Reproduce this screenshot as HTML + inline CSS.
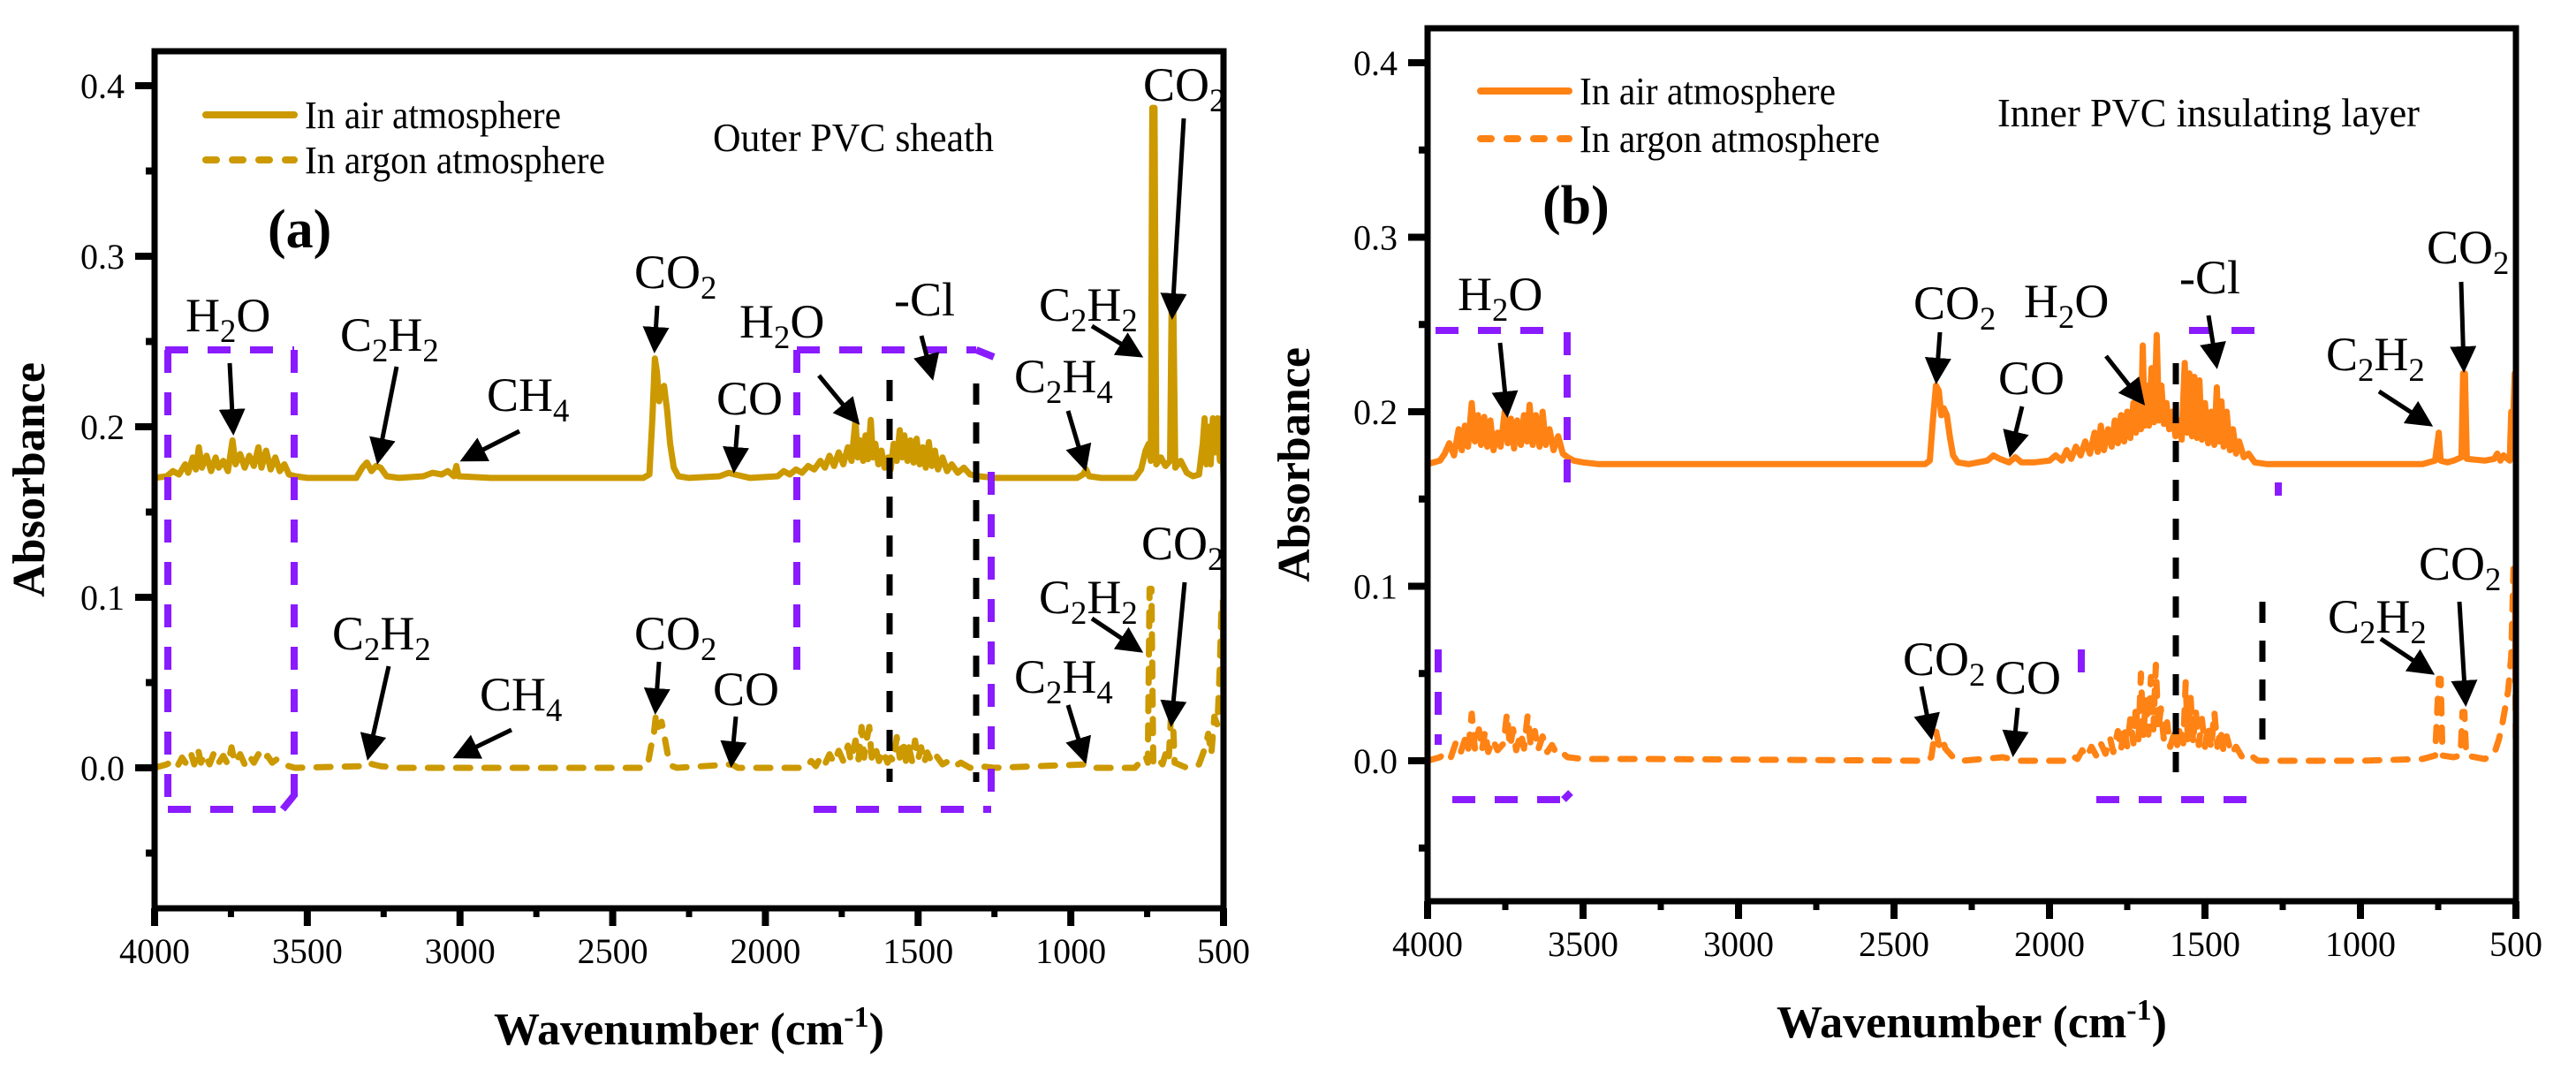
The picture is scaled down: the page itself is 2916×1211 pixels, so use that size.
<!DOCTYPE html>
<html><head><meta charset="utf-8"><title>FTIR spectra</title>
<style>
html,body{margin:0;padding:0;background:#fff;}
svg{display:block;font-family:"Liberation Serif",serif;}
svg text, svg tspan{font-family:"Liberation Serif",serif;}
</style></head>
<body>
<svg id="chart" width="2916" height="1211" viewBox="0 0 2916 1211" xmlns="http://www.w3.org/2000/svg"></svg>
<script>
// ---------- data ----------
const xTicks = [4000, 3500, 3000, 2500, 2000, 1500, 1000, 500];
const yTicks = [0.0, 0.1, 0.2, 0.3, 0.4];
const yTickLabels = ["0.0", "0.1", "0.2", "0.3", "0.4"];

const aAir = [[4000,.170],[3960,.171],[3940,.174],[3920,.172],[3900,.178],[3890,.173],[3875,.182],[3865,.175],[3855,.188],[3845,.176],[3830,.183],[3815,.174],[3800,.182],[3790,.176],[3775,.180],[3760,.174],[3745,.192],[3735,.178],[3720,.184],[3705,.176],[3690,.183],[3675,.177],[3660,.188],[3650,.176],[3635,.186],[3620,.175],[3605,.182],[3590,.174],[3575,.178],[3560,.172],[3540,.171],[3500,.170],[3340,.170],[3320,.176],[3305,.179],[3290,.174],[3275,.177],[3260,.176],[3240,.171],[3200,.170],[3120,.171],[3090,.173],[3060,.172],[3040,.174],[3020,.171],[3012,.177],[3005,.171],[2900,.170],[2400,.170],[2380,.172],[2370,.205],[2362,.240],[2355,.232],[2348,.215],[2340,.222],[2332,.224],[2322,.210],[2312,.190],[2300,.176],[2285,.171],[2250,.170],[2150,.171],[2120,.173],[2100,.172],[2050,.170],[1960,.171],[1940,.174],[1920,.172],[1900,.175],[1880,.173],[1860,.177],[1840,.175],[1820,.180],[1805,.176],[1790,.183],[1775,.177],[1760,.185],[1745,.178],[1730,.188],[1718,.180],[1705,.204],[1698,.182],[1690,.192],[1680,.180],[1672,.195],[1664,.181],[1655,.204],[1648,.182],[1640,.190],[1630,.178],[1620,.186],[1610,.176],[1598,.182],[1590,.175],[1580,.190],[1570,.180],[1560,.198],[1552,.182],[1545,.195],[1535,.180],[1525,.192],[1515,.179],[1505,.193],[1495,.178],[1485,.188],[1475,.176],[1465,.191],[1455,.177],[1445,.186],[1435,.175],[1420,.182],[1405,.174],[1390,.178],[1370,.173],[1350,.176],[1330,.172],[1300,.171],[1250,.170],[980,.170],[960,.172],[950,.175],[940,.171],[900,.170],[790,.170],[770,.175],[755,.186],[745,.190],[738,.180],[733,.387],[726,.387],[720,.178],[705,.182],[690,.177],[675,.180],[670,.267],[664,.267],[658,.176],[640,.180],[620,.173],[600,.171],[580,.172],[568,.190],[562,.205],[556,.178],[548,.200],[542,.178],[535,.205],[528,.185],[520,.205],[512,.180],[506,.205],[500,.170]];

const aArgon = [[4000,0],[3960,.002],[3940,.004],[3925,.001],[3910,.006],[3895,.002],[3880,.008],[3870,.002],[3858,.011],[3848,.003],[3835,.008],[3820,.002],[3805,.009],[3790,.003],[3775,.007],[3760,.002],[3748,.012],[3738,.003],[3720,.008],[3705,.002],[3690,.007],[3675,.003],[3660,.008],[3645,.004],[3630,.007],[3615,.003],[3600,.005],[3580,.002],[3560,.001],[3540,0],[3320,.001],[3305,.003],[3285,.002],[3260,.001],[3200,0],[2400,0],[2385,.002],[2375,.012],[2365,.020],[2358,.032],[2350,.024],[2340,.027],[2330,.018],[2318,.006],[2305,.001],[2290,0],[2110,.002],[2090,0],[1870,0],[1850,.004],[1835,.001],[1820,.006],[1805,.002],[1790,.008],[1775,.003],[1760,.010],[1745,.004],[1730,.013],[1720,.004],[1705,.016],[1695,.005],[1685,.024],[1677,.006],[1668,.017],[1660,.024],[1652,.006],[1640,.012],[1628,.004],[1615,.010],[1600,.003],[1590,.006],[1580,.004],[1570,.018],[1560,.006],[1550,.016],[1540,.004],[1530,.012],[1520,.004],[1510,.016],[1500,.005],[1490,.012],[1480,.003],[1470,.009],[1455,.003],[1440,.007],[1420,.002],[1400,.004],[1380,.001],[1360,.003],[1330,0],[1300,.001],[1250,0],[950,.002],[930,0],[790,0],[770,.004],[755,.007],[748,.003],[742,.105],[736,.105],[730,.003],[715,.006],[700,.002],[690,.008],[680,.003],[672,.030],[666,.030],[660,.003],[620,0],[580,.002],[560,.012],[550,.020],[540,.008],[530,.030],[520,.025],[512,.060],[506,.098],[502,.098],[500,.020]];

const bAir = [[4000,.170],[3960,.172],[3945,.176],[3930,.182],[3915,.175],[3900,.190],[3890,.178],[3880,.192],[3870,.180],[3858,.205],[3848,.183],[3838,.198],[3828,.181],[3818,.197],[3808,.180],[3798,.195],[3788,.178],[3775,.188],[3765,.180],[3752,.200],[3742,.182],[3732,.196],[3722,.179],[3712,.195],[3700,.181],[3690,.198],[3680,.183],[3672,.204],[3662,.181],[3652,.198],[3640,.180],[3630,.200],[3620,.181],[3608,.190],[3595,.178],[3580,.186],[3565,.176],[3550,.174],[3530,.172],[3500,.171],[3450,.170],[2400,.170],[2385,.172],[2375,.195],[2365,.215],[2356,.212],[2348,.198],[2340,.202],[2330,.198],[2320,.185],[2310,.175],[2295,.171],[2260,.170],[2200,.172],[2180,.175],[2160,.173],[2130,.171],[2110,.174],[2090,.171],[2050,.171],[2000,.172],[1980,.175],[1960,.172],[1945,.178],[1930,.173],[1915,.180],[1900,.175],[1885,.183],[1870,.176],[1855,.188],[1845,.177],[1835,.192],[1825,.178],[1812,.190],[1800,.180],[1790,.195],[1780,.182],[1770,.198],[1760,.183],[1750,.200],[1740,.185],[1730,.205],[1722,.188],[1715,.207],[1706,.190],[1700,.238],[1694,.192],[1688,.215],[1680,.192],[1672,.225],[1664,.194],[1655,.244],[1648,.195],[1640,.215],[1632,.193],[1624,.205],[1615,.190],[1605,.200],[1595,.186],[1585,.195],[1575,.184],[1565,.228],[1558,.188],[1550,.222],[1542,.186],[1534,.220],[1526,.185],[1518,.218],[1510,.184],[1500,.205],[1490,.182],[1480,.200],[1470,.181],[1462,.214],[1455,.183],[1447,.206],[1440,.180],[1430,.200],[1420,.178],[1410,.190],[1400,.176],[1390,.183],[1375,.174],[1360,.176],[1340,.171],[1300,.170],[800,.170],[760,.172],[748,.188],[742,.172],[720,.171],[700,.172],[675,.174],[670,.222],[664,.222],[658,.173],[600,.172],[570,.173],[560,.176],[550,.172],[540,.175],[520,.172],[515,.200],[508,.200],[504,.222],[500,.175]];

const bArgon = [[4000,0],[3960,.002],[3940,.005],[3925,.002],[3910,.010],[3895,.004],[3880,.012],[3870,.005],[3858,.027],[3848,.007],[3835,.018],[3825,.006],[3815,.017],[3805,.005],[3790,.012],[3775,.006],[3755,.010],[3745,.027],[3735,.008],[3725,.018],[3715,.006],[3700,.016],[3690,.007],[3678,.026],[3668,.008],[3655,.017],[3645,.006],[3630,.014],[3615,.005],[3600,.009],[3585,.004],[3570,.005],[3550,.002],[3500,.001],[3300,.001],[2400,0],[2380,.002],[2372,.012],[2365,.017],[2355,.009],[2345,.013],[2335,.007],[2320,.004],[2305,.001],[2280,0],[2150,.002],[2100,0],[1950,0],[1930,.003],[1910,.001],[1895,.006],[1880,.002],[1865,.008],[1850,.003],[1835,.010],[1820,.004],[1805,.013],[1795,.005],[1780,.017],[1770,.006],[1760,.020],[1750,.008],[1740,.024],[1730,.010],[1722,.032],[1714,.012],[1706,.050],[1698,.014],[1690,.036],[1682,.015],[1674,.048],[1666,.018],[1658,.055],[1650,.018],[1642,.030],[1632,.012],[1622,.022],[1612,.008],[1600,.015],[1590,.008],[1580,.020],[1570,.010],[1562,.045],[1555,.012],[1546,.036],[1538,.010],[1530,.030],[1520,.009],[1510,.024],[1500,.008],[1490,.020],[1480,.007],[1470,.028],[1460,.008],[1450,.018],[1440,.005],[1430,.014],[1415,.004],[1400,.008],[1380,.002],[1360,.004],[1330,0],[1000,0],[800,.001],[760,.003],[748,.047],[742,.047],[736,.003],[700,.002],[678,.003],[672,.028],[666,.028],[660,.003],[600,.001],[570,.004],[555,.012],[545,.020],[535,.030],[525,.040],[515,.060],[508,.110],[503,.110],[500,-0.005]];

// ---------- drawing ----------
const NS = "http://www.w3.org/2000/svg";
const svg = document.getElementById("chart");
function mk(tag, attrs, parent) {
  const e = document.createElementNS(NS, tag);
  for (const k in attrs) e.setAttribute(k, attrs[k]);
  if (tag === "text") e.setAttribute("font-family", "Liberation Serif, serif");
  (parent || svg).appendChild(e);
  return e;
}
function label(parent, x, y, parts, size) {
  const t = mk("text", {x: x, y: y, "font-size": size, fill: "#000"}, parent);
  let sub = false;
  parts.forEach(p => {
    const ts = mk("tspan", {}, t);
    if (p[1] && !sub) { ts.setAttribute("dy", 12); ts.setAttribute("font-size", size * 0.68); sub = true; }
    else if (!p[1] && sub) { ts.setAttribute("dy", -12); sub = false; }
    ts.textContent = p[0];
  });
  return t;
}

function panel(cfg) {
  const g = mk("g", {});
  
  
  const xs = v => cfg.L + (cfg.xMax - v) / (cfg.xMax - cfg.xMin) * (cfg.R - cfg.L);
  const ys = v => cfg.y0 - v / 0.1 * cfg.per01;

  const series = [[cfg.air, null, "air-spectrum"], [cfg.argon, "16,16", "argon-spectrum"]];
  series.forEach(s => {
    const d = s[0].map((p, i) => (i ? "L" : "M") + xs(p[0]).toFixed(1) + "," + ys(p[1]).toFixed(1)).join("");
    const path = mk("path", {d: d, fill: "none", stroke: cfg.color, "stroke-width": 7, "stroke-linejoin": "round", "stroke-linecap": "round"}, g);
    if (s[1]) path.setAttribute("stroke-dasharray", s[1]);
    
    
  });

  cfg.purple.forEach(l => {
    const ln = mk("line", {x1: l[0], y1: l[1], x2: l[2], y2: l[3], stroke: "#8A1BFF", "stroke-width": 8, "stroke-dasharray": "26,22"}, g);
    
    
  });
  cfg.black.forEach(l => {
    const ln = mk("line", {x1: l[0], y1: l[1], x2: l[0], y2: l[2], stroke: "#000", "stroke-width": 7, "stroke-dasharray": "24,20"}, g);
    
    
  });

  const fr = mk("rect", {x: cfg.L, y: cfg.T, width: cfg.R - cfg.L, height: cfg.B - cfg.T, fill: "none", stroke: "#000", "stroke-width": 7}, g);
  
  

  for (let v = 4000; v >= 500; v -= 250) {
    const major = v % 500 === 0;
    const tk = mk("line", {x1: xs(v), y1: cfg.B, x2: xs(v), y2: cfg.B + (major ? 20 : 10), stroke: "#000", "stroke-width": major ? 8 : 7}, g);
    
    
  }
  xTicks.forEach(v => {
    const t = mk("text", {x: xs(v), y: cfg.B + 62, "font-size": 40, "text-anchor": "middle"}, g);
    t.textContent = v;
    
    
  });
  for (let k = -1; k <= 8; k++) {
    const v = k * 0.05;
    const y = ys(v);
    if (y < cfg.T + 2 || y > cfg.B - 2) continue;
    const major = k % 2 === 0;
    const tk = mk("line", {x1: cfg.L - (major ? 22 : 10), y1: y, x2: cfg.L, y2: y, stroke: "#000", "stroke-width": 8}, g);
    
    
  }
  yTicks.forEach((v, i) => {
    const t = mk("text", {x: cfg.L - 34, y: ys(v) + 14, "font-size": 40, "text-anchor": "end"}, g);
    t.textContent = yTickLabels[i];
    
    
  });

  const xt = mk("text", {x: (cfg.L + cfg.R) / 2, y: cfg.B + 154, "font-size": 52, "font-weight": "bold", "text-anchor": "middle"}, g);
  
  
  xt.appendChild(document.createTextNode("Wavenumber (cm"));
  const sup = mk("tspan", {dy: -20, "font-size": 34}, xt); sup.textContent = "-1";
  const cl = mk("tspan", {dy: 20}, xt); cl.textContent = ")";
  const yt = mk("text", {x: 0, y: 0, "font-size": 52, "font-weight": "bold", "text-anchor": "middle", transform: "translate(" + cfg.ytX + "," + (cfg.T + cfg.B) / 2 + ") rotate(-90)"}, g);
  yt.textContent = "Absorbance";
  
  

  const lg = mk("g", {}, g);
  
  
  const l1 = mk("line", {x1: cfg.leg[0], y1: cfg.leg[1], x2: cfg.leg[0] + 100, y2: cfg.leg[1], stroke: cfg.color, "stroke-width": 8, "stroke-linecap": "round"}, lg);
  
  
  const l2 = mk("line", {x1: cfg.leg[0], y1: cfg.leg[2], x2: cfg.leg[0] + 100, y2: cfg.leg[2], stroke: cfg.color, "stroke-width": 8, "stroke-linecap": "round", "stroke-dasharray": "12,18"}, lg);
  
  
  const t1 = mk("text", {x: cfg.leg[0] + 112, y: cfg.leg[1] + 15, "font-size": 44, textLength: 290, lengthAdjust: "spacingAndGlyphs"}, lg);
  t1.textContent = "In air atmosphere";
  
  
  const t2 = mk("text", {x: cfg.leg[0] + 112, y: cfg.leg[2] + 15, "font-size": 44, textLength: 340, lengthAdjust: "spacingAndGlyphs"}, lg);
  t2.textContent = "In argon atmosphere";
  
  

  const pt = mk("text", {x: cfg.title[0], y: cfg.title[1], "font-size": 46, textLength: cfg.title[3], lengthAdjust: "spacingAndGlyphs"}, g);
  pt.textContent = cfg.title[2];
  
  
  const pl = mk("text", {x: cfg.letter[0], y: cfg.letter[1], "font-size": 62, "font-weight": "bold"}, g);
  pl.textContent = cfg.letter[2];
  
  

  mk("defs", {}, g).innerHTML = '<marker id="ah' + cfg.id + '" markerWidth="6" markerHeight="6" refX="5" refY="3" orient="auto" markerUnits="strokeWidth"><path d="M0,0 L6,3 L0,6 z" fill="#000"/></marker>';
  cfg.notes.forEach(n => {
    const t = label(g, n[0], n[1], n[2], 54);
    
    
    const a = mk("line", {x1: n[3], y1: n[4], x2: n[5], y2: n[6], stroke: "#000", "stroke-width": 5, "marker-end": "url(#ah" + cfg.id + ")"}, g);
    
    
  });
}

const CO2 = [["CO"], ["2", 1]], C2H2 = [["C"], ["2", 1], ["H"], ["2", 1]], C2H4 = [["C"], ["2", 1], ["H"], ["4", 1]], H2O = [["H"], ["2", 1], ["O"]], CH4 = [["CH"], ["4", 1]];

panel({
  id: "a", name: "panel-a-outer-pvc-sheath", color: "#CC9900",
  L: 175, R: 1385, T: 58, B: 1028, xMax: 4000, xMin: 500, y0: 869, per01: 193, ytX: 50,
  air: aAir, argon: aArgon,
  leg: [233, 130, 181], title: [807, 171, "Outer PVC sheath", 318], letter: [303, 280, "(a)"],
  purple: [[187,396,333,396],[190,396,190,916],[333,396,333,909],[190,916,320,916],[320,916,333,900],
           [902,396,1105,396],[1105,396,1125,404],[902,396,902,770],[921,916,1122,916],[1122,534,1122,909]],
  black: [[1007,430,885],[1105,434,885]],
  notes: [
    [210,375,H2O,260,411,264,488],[385,397,C2H2,449,415,428,521],[551,465,CH4,588,488,525,520],
    [718,326,CO2,744,346,741,395],[811,469,[["CO"]],835,481,831,531],[837,382,H2O,927,425,970,477],
    [1012,357,[["-Cl"]],1043,380,1055,426],[1176,363,C2H2,1236,369,1290,402],[1148,444,C2H4,1209,465,1228,529],
    [1294,114,CO2,1340,134,1327,357],
    [376,735,C2H2,440,754,417,856],[543,804,CH4,579,826,517,856],[718,735,CO2,746,749,742,804],
    [807,798,[["CO"]],833,811,828,864],[1176,694,C2H2,1236,700,1290,736],[1148,784,C2H4,1209,798,1228,860],
    [1292,633,CO2,1341,659,1326,818]
  ]
});

panel({
  id: "b", name: "panel-b-inner-pvc-insulating-layer", color: "#FF8214",
  L: 1616, R: 2848, T: 32, B: 1020, xMax: 4000, xMin: 500, y0: 861, per01: 197.5, ytX: 1482,
  air: bAir, argon: bArgon,
  leg: [1676, 103, 157], title: [2261, 143, "Inner PVC insulating layer", 478], letter: [1746, 253, "(b)"],
  purple: [[1625,374,1766,374],[1774,376,1774,546],[1628,735,1628,843],[1644,905,1770,905],[1770,905,1778,897],
           [2356,735,2356,781],[2373,905,2543,905],[2478,374,2557,374],[2579,546,2579,561]],
  black: [[2463,411,874],[2561,681,854]],
  notes: [
    [1650,351,H2O,1698,388,1706,468],[2166,361,CO2,2196,376,2192,430],[2291,359,H2O,2384,403,2425,455],
    [2262,446,[["CO"]],2289,460,2276,513],[2467,332,[["-Cl"]],2500,357,2509,413],[2633,419,C2H2,2693,443,2750,480],
    [2747,298,CO2,2786,319,2789,417],
    [2154,764,CO2,2175,777,2186,833],[2258,785,[["CO"]],2284,801,2279,852],[2635,716,C2H2,2695,723,2752,761],
    [2738,656,CO2,2784,681,2791,795]
  ]
});
</script>
</body></html>
